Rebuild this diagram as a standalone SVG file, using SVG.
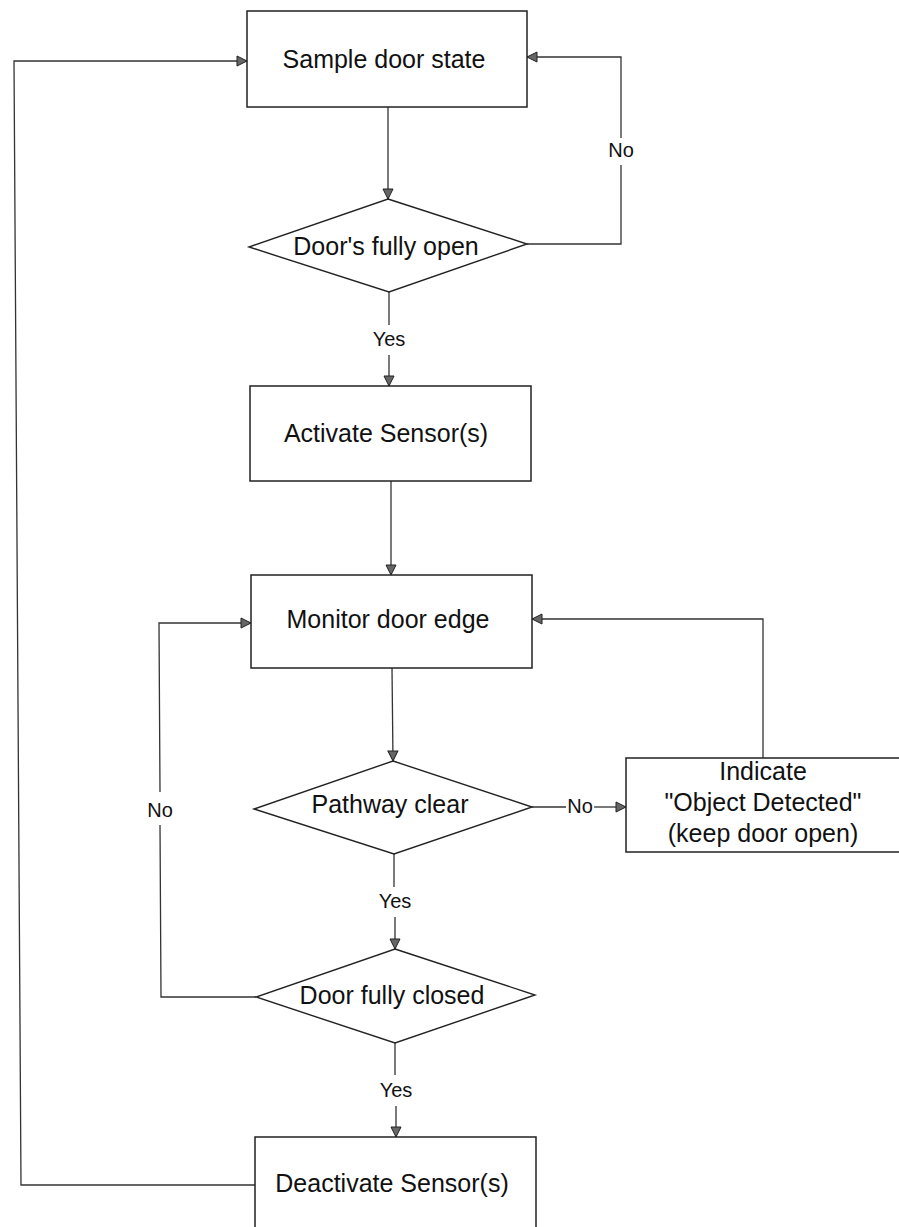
<svg xmlns="http://www.w3.org/2000/svg" width="899" height="1227" viewBox="0 0 899 1227">
<style>
.box{fill:#fff;stroke:#222;stroke-width:1.5}
.dia{fill:#fff;stroke:#222;stroke-width:1.4}
.t{font-family:"Liberation Sans",Arial,sans-serif;font-size:25px;fill:#111;text-anchor:middle}
.lb{font-family:"Liberation Sans",Arial,sans-serif;font-size:20px;fill:#111;text-anchor:middle}
.c{fill:none;stroke:#333;stroke-width:1.3}
.a{marker-end:url(#arr)}
</style>
<defs>
<marker id="arr" markerUnits="userSpaceOnUse" markerWidth="14" markerHeight="14" refX="11" refY="6" orient="auto">
<path d="M1,1 L11,6 L1,11 z" fill="#666" stroke="#222" stroke-width="1"/>
</marker>
</defs>
<rect width="899" height="1227" fill="#fff"/>

<g id="connectors">
<path class="c a" d="M388,107 L388,199"/>
<path class="c" d="M527,244 L621,244 L621,165"/>
<path class="c a" d="M621,138 L621,57 L527,57"/>
<path class="c" d="M389,292 L389,325"/>
<path class="c a" d="M389,355 L389,386"/>
<path class="c a" d="M391,481 L391,575"/>
<path class="c a" d="M392,668 L393,761"/>
<path class="c" d="M532,807 L566,807"/>
<path class="c a" d="M594,807 L626,807"/>
<path class="c a" d="M763,758 L763,619 L532,619"/>
<path class="c" d="M394,854 L394,887"/>
<path class="c a" d="M395,917 L395,949"/>
<path class="c" d="M256,997 L161,997 L160,825"/>
<path class="c a" d="M160,792 L159,623 L251,623"/>
<path class="c" d="M395,1043 L395,1075"/>
<path class="c a" d="M396,1106 L396,1137"/>
<path class="c a" d="M255,1185 L21,1185 L14,61 L247,61"/>
<text class="lb" x="621" y="157">No</text>
<text class="lb" x="389" y="346">Yes</text>
<text class="lb" x="580" y="813">No</text>
<text class="lb" x="160" y="817">No</text>
<text class="lb" x="395" y="908">Yes</text>
<text class="lb" x="396" y="1097">Yes</text>
</g>

<g id="sample">
<rect class="box" x="247" y="11" width="280" height="96"/>
<text class="t" x="384" y="68">Sample door state</text>
</g>

<g id="fully-open">
<polygon class="dia" points="388,199 527,244 389,292 249,247"/>
<text class="t" x="386" y="255">Door's fully open</text>
</g>

<g id="activate">
<rect class="box" x="250" y="386" width="281" height="95"/>
<text class="t" x="386" y="442">Activate Sensor(s)</text>
</g>

<g id="monitor">
<rect class="box" x="251" y="575" width="281" height="93"/>
<text class="t" x="388" y="628">Monitor door edge</text>
</g>

<g id="pathway">
<polygon class="dia" points="393,761 532,807 394,854 254,809"/>
<text class="t" x="390" y="813">Pathway clear</text>
</g>

<g id="indicate">
<rect class="box" x="626" y="758" width="290" height="94"/>
<text class="t" x="763" y="780">Indicate</text>
<text class="t" x="763" y="811">"Object Detected"</text>
<text class="t" x="763" y="842">(keep door open)</text>
</g>

<g id="fully-closed">
<polygon class="dia" points="395,949 535,995 395,1043 256,997"/>
<text class="t" x="392" y="1004">Door fully closed</text>
</g>

<g id="deactivate">
<rect class="box" x="255" y="1137" width="281" height="110"/>
<text class="t" x="392" y="1192">Deactivate Sensor(s)</text>
</g>
</svg>
